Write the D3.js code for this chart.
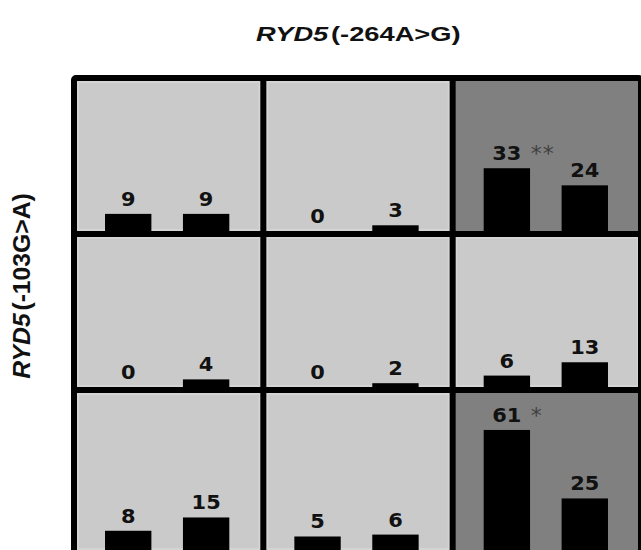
<!DOCTYPE html>
<html><head><meta charset="utf-8">
<script src="https://cdn.jsdelivr.net/npm/d3@7"></script>
<style>html,body{margin:0;padding:0;background:#fff;}svg{display:block;}</style>
</head><body>
<svg id="chart" width="641" height="550"></svg>
<script>
// -264A>G genotype columns, -103G>A genotype rows, two groups per cell
const colKeys = ["c0", "c1", "c2"];
const rowKeys = ["r0", "r1", "r2"];
const groups = ["g1", "g2"];
const values = [
  [[9, 9], [0, 3], [33, 24]],
  [[0, 4], [0, 2], [6, 13]],
  [[8, 15], [5, 6], [61, 25]]
];
const darkCells = [[0, 2], [2, 2]];
const marks = [{row: 0, col: 2, text: "**"}, {row: 2, col: 2, text: "*"}];
const titleGene = "RYD5";
const titleVar = "(-264A>G)";
const yGene = "RYD5";
const yVar = "(-103G>A)";

const svg = d3.select("#chart");
const gx = d3.scaleBand().domain(d3.range(3)).range([74, 642]);
const rowTop = d3.scaleBand().domain(d3.range(3)).range([78, 546]);
const cw = gx.bandwidth(), ch = rowTop.bandwidth();
const bottomY = 553;
const rowH = r => r === 2 ? bottomY - rowTop(2) : ch;
const rowBase = r => r === 2 ? 546 - rowTop(2) : ch - 3;
const inner = d3.scaleBand().domain(d3.range(2)).range([0, cw - 3]).paddingInner(0.405).paddingOuter(0.398);
const hScale = d3.scaleLinear().domain([0, 82]).range([0, ch]);

const cells = [];
values.forEach((row, r) => row.forEach((v, c) => cells.push({r, c, v,
  dark: darkCells.some(d => d[0] === r && d[1] === c)})));

const cg = svg.selectAll("g.cell").data(cells).join("g").attr("class", "cell")
  .attr("transform", d => `translate(${gx(d.c)},${rowTop(d.r)})`);
cg.append("rect").attr("width", cw).attr("height", d => rowH(d.r))
  .attr("fill", d => d.dark ? "#808080" : "#cacaca");
cg.filter(d => !d.dark).append("rect").attr("x", 4).attr("y", 4).attr("width", cw - 8)
  .attr("height", d => rowH(d.r) - 8)
  .attr("fill", "none").attr("stroke", "#d4d4d4").attr("stroke-width", 2);

cg.each(function(d) {
  const g = d3.select(this);
  const base = rowBase(d.r);
  const bd = d.v.map((val, i) => ({val, i}));
  g.selectAll("rect.bar").data(bd).join("rect").attr("class", "bar")
    .attr("x", b => inner(b.i)).attr("width", inner.bandwidth())
    .attr("y", b => base - hScale(b.val)).attr("height", b => hScale(b.val) + 5)
    .attr("fill", "#000");
  g.selectAll("text.lab").data(bd).join("text").attr("class", "lab")
    .attr("transform", b => `translate(${inner(b.i) + inner.bandwidth() / 2},${base - hScale(b.val) - 8}) scale(1.1,1)`)
    .attr("text-anchor", "middle")
    .attr("font-family", "DejaVu Sans").attr("font-weight", "bold").attr("font-size", 19)
    .attr("fill", "#111").text(b => b.val);
});

marks.forEach(m => {
  const v = values[m.row][m.col][0];
  svg.append("text")
    .attr("x", gx(m.col) + inner(0) + inner.bandwidth() / 2 + 24)
    .attr("y", rowTop(m.row) + rowBase(m.row) - hScale(v) - 8 + 1)
    .attr("font-family", "DejaVu Sans").attr("font-size", 22)
    .attr("letter-spacing", 1)
    .attr("fill", "#404040").text(m.text);
});

// grid lines
const lines = svg.append("g").attr("stroke", "#000").attr("stroke-width", 6).attr("fill", "none");
lines.append("rect").attr("x", 74).attr("y", 78).attr("width", 567).attr("height", bottomY - 78).attr("rx", 2);
[1, 2].forEach(i => {
  lines.append("line").attr("x1", gx(i)).attr("x2", gx(i)).attr("y1", 78).attr("y2", bottomY);
  lines.append("line").attr("y1", rowTop(i)).attr("y2", rowTop(i)).attr("x1", 74).attr("x2", 642);
});

function fitText(sel, target) {
  const w = sel.node().getComputedTextLength();
  return target / w;
}
// title
const t = svg.append("text").attr("font-family", "Liberation Sans").attr("font-weight", "bold")
  .attr("font-size", 20).attr("fill", "#111");
t.append("tspan").attr("font-style", "italic").text(titleGene);
t.append("tspan").attr("dx", 2).text(titleVar);
const ts = fitText(t, 202);
t.attr("transform", `translate(256,41) scale(${ts},1)`);

// y label
const yl = svg.append("text").attr("font-family", "Liberation Sans").attr("font-weight", "bold")
  .attr("font-size", 18).attr("fill", "#111").attr("text-anchor", "middle");
yl.append("tspan").attr("font-style", "italic").text(yGene);
yl.append("tspan").attr("dx", 2).text(yVar);
const ys = fitText(yl, 183);
yl.attr("transform", `translate(30,286) scale(1.35,1) rotate(-90) scale(${ys},1)`);
</script>
</body></html>
